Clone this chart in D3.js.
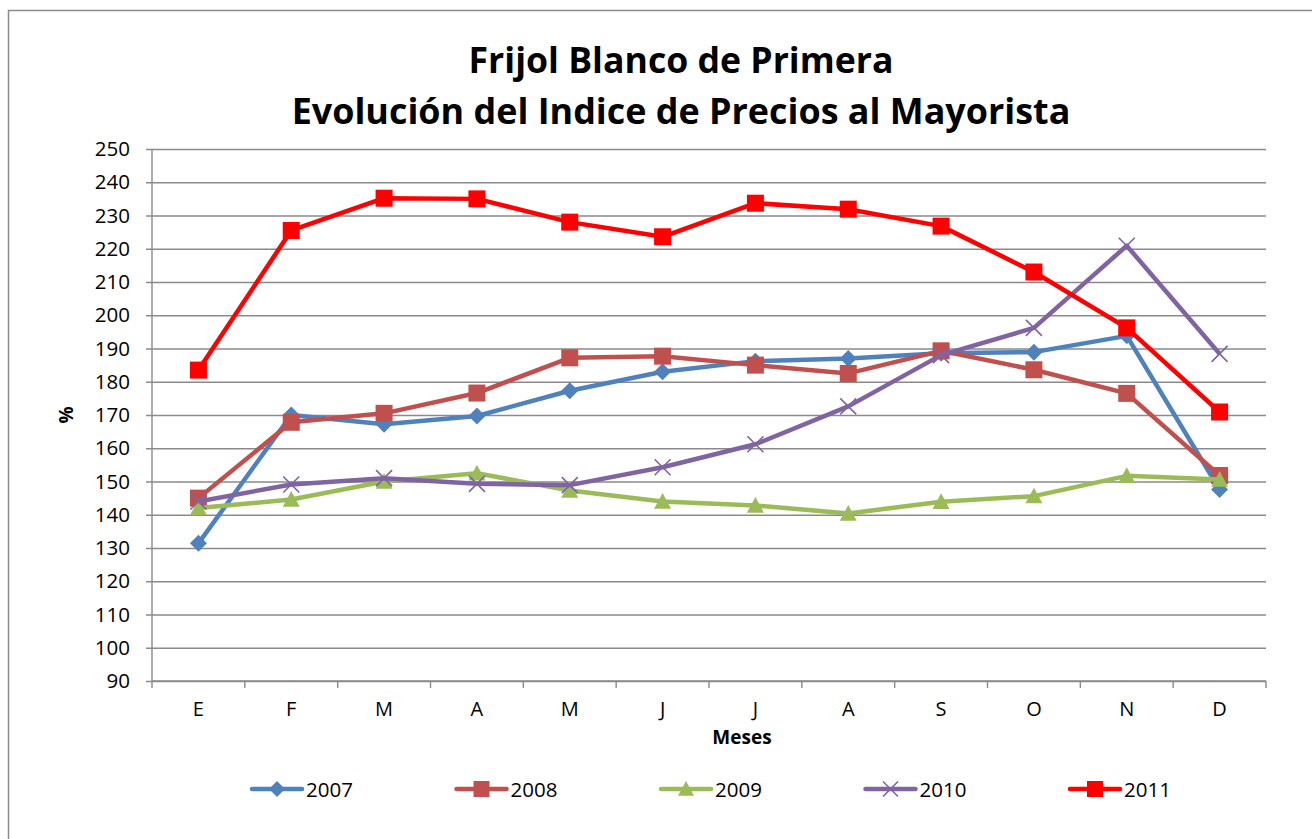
<!DOCTYPE html>
<html>
<head>
<meta charset="utf-8">
<script src="https://cdn.jsdelivr.net/npm/d3@7"></script>
<style>
  body { margin: 0; background: #fff; }
  svg { display: block; font-family: "Open Sans", sans-serif; }
</style>
</head>
<body>
<svg id="chart"></svg>
<script>
let months = ["E", "F", "M", "A", "M", "J", "J", "A", "S", "O", "N", "D"];
let yTicks = [90, 100, 110, 120, 130, 140, 150, 160, 170, 180, 190, 200, 210, 220, 230, 240, 250];

let years = ["2007", "2008", "2009", "2010", "2011"];
let v2007 = [131.4, 170.0, 167.2, 169.7, 177.3, 183.0, 186.2, 187.0, 188.6, 188.9, 193.8, 147.6];
let v2008 = [145.0, 167.8, 170.5, 176.6, 187.2, 187.7, 185.0, 182.5, 189.3, 183.6, 176.5, 151.8];
let v2009 = [142.0, 144.6, 150.0, 152.5, 147.3, 144.0, 142.8, 140.4, 143.9, 145.6, 151.7, 150.6];
let v2010 = [144.0, 149.1, 151.0, 149.3, 148.9, 154.3, 161.2, 172.6, 188.0, 196.2, 220.9, 188.4];
let v2011 = [183.5, 225.5, 235.2, 235.0, 228.0, 223.6, 233.7, 231.9, 226.8, 213.0, 196.2, 170.9];

let colors = ["#4F81BD", "#C0504D", "#9BBB59", "#8064A2", "#FF0000"];
let shapes = ["diamond", "square", "triangle", "x", "square"];

let width = 1312;
let height = 839;
let plot = {left: 152, right: 1266, top: 149, bottom: 681};
let gridColor = "#8a8a8a";

let seriesValues = [v2007, v2008, v2009, v2010, v2011];
let series = years.map((y, i) => ({
    name: y, values: seriesValues[i], color: colors[i], shape: shapes[i]
}));

let svg = d3.select("#chart")
    .attr("width", width)
    .attr("height", height);

// outer chart border
svg.append("rect")
    .attr("x", 8.5)
    .attr("y", 10.5)
    .attr("width", width + 20)
    .attr("height", height + 20)
    .attr("fill", "#fff")
    .attr("stroke", gridColor)
    .attr("stroke-width", 1.5);

let xScale = d3.scaleBand()
    .domain(d3.range(months.length))
    .range([plot.left, plot.right])
    .paddingInner(0)
    .paddingOuter(0);

let yScale = d3.scaleLinear()
    .domain([90, 250])
    .range([plot.bottom, plot.top]);

let cx = (i) => xScale(i) + xScale.bandwidth() / 2;

// gridlines + y axis
let yAxis = d3.axisLeft(yScale)
    .tickValues(yTicks)
    .tickSize(-(plot.right - plot.left))
    .tickPadding(22)
    .tickFormat(d3.format("d"));

let gy = svg.append("g")
    .attr("transform", "translate(" + plot.left + ",0)")
    .call(yAxis);
gy.select(".domain").remove();
gy.selectAll(".tick line")
    .attr("x1", -6)
    .attr("stroke", gridColor)
    .attr("stroke-width", 1.4);
gy.selectAll(".tick text")
    .attr("fill", "#000")
    .style("font-size", "20.5px")
    .style("font-family", "Open Sans");

svg.append("line")
    .attr("x1", plot.left).attr("x2", plot.left)
    .attr("y1", plot.top).attr("y2", plot.bottom)
    .attr("stroke", gridColor)
    .attr("stroke-width", 1.4);

// x axis: ticks between categories
let xAxis = d3.axisBottom(xScale)
    .tickSize(0)
    .tickPadding(21)
    .tickFormat((i) => months[i]);

let gx = svg.append("g")
    .attr("transform", "translate(0," + plot.bottom + ")")
    .call(xAxis);
gx.select(".domain").remove();
gx.selectAll(".tick text")
    .attr("fill", "#000")
    .style("font-size", "20px")
    .style("font-family", "Open Sans");

svg.append("g")
    .selectAll("line")
    .data(d3.range(months.length + 1))
    .enter()
    .append("line")
    .attr("x1", (i) => i < months.length ? xScale(i) : plot.right)
    .attr("x2", (i) => i < months.length ? xScale(i) : plot.right)
    .attr("y1", plot.bottom)
    .attr("y2", plot.bottom + 7)
    .attr("stroke", gridColor)
    .attr("stroke-width", 1.4);

svg.append("line")
    .attr("x1", plot.left).attr("x2", plot.right)
    .attr("y1", plot.bottom).attr("y2", plot.bottom)
    .attr("stroke", gridColor)
    .attr("stroke-width", 1.4);

// marker drawing
let drawMarker = (sel, shape, color, s) => {
    let h = s / 2;
    if (shape === "diamond") {
        sel.append("path")
            .attr("d", "M0," + (-h) + "L" + h + ",0L0," + h + "L" + (-h) + ",0Z")
            .attr("fill", color);
    } else if (shape === "square") {
        sel.append("rect")
            .attr("x", -h).attr("y", -h)
            .attr("width", s).attr("height", s)
            .attr("fill", color);
    } else if (shape === "triangle") {
        sel.append("path")
            .attr("d", "M0," + (-h) + "L" + h + "," + (h * 0.85) + "L" + (-h) + "," + (h * 0.85) + "Z")
            .attr("fill", color);
    } else {
        sel.append("path")
            .attr("d", "M" + (-h) + "," + (-h) + "L" + h + "," + h + "M" + h + "," + (-h) + "L" + (-h) + "," + h)
            .attr("stroke", color)
            .attr("stroke-width", 1.6)
            .attr("fill", "none");
    }
};

let line = d3.line()
    .x((d, i) => cx(i))
    .y((d) => yScale(d));

series.forEach((s) => {
    let g = svg.append("g");
    g.append("path")
        .datum(s.values)
        .attr("d", line)
        .attr("fill", "none")
        .attr("stroke", s.color)
        .attr("stroke-width", 4.5)
        .attr("stroke-linejoin", "round");

    g.selectAll("g.marker")
        .data(s.values)
        .enter()
        .append("g")
        .attr("class", "marker")
        .attr("transform", (d, i) => "translate(" + cx(i) + "," + yScale(d) + ")")
        .each(function () {
            drawMarker(d3.select(this), s.shape, s.color, s.shape === "x" ? 16 : 17);
        });
});

// titles
let fitText = (t, target) => {
    let w = t.node().getComputedTextLength();
    let fs = parseFloat(t.style("font-size"));
    t.style("font-size", (fs * target / w) + "px");
};

let t1 = svg.append("text")
    .attr("x", 681)
    .attr("y", 73)
    .attr("text-anchor", "middle")
    .style("font-weight", "bold")
    .style("font-size", "36px")
    .text("Frijol Blanco de Primera");
fitText(t1, 425);

let t2 = svg.append("text")
    .attr("x", 681)
    .attr("y", 124)
    .attr("text-anchor", "middle")
    .style("font-weight", "bold")
    .style("font-size", "36px")
    .text("Evolución del Indice de Precios al Mayorista");
fitText(t2, 779);

svg.append("text")
    .attr("x", 742)
    .attr("y", 744)
    .attr("text-anchor", "middle")
    .style("font-weight", "bold")
    .style("font-size", "19px")
    .text("Meses");

svg.append("text")
    .attr("transform", "translate(73,415)rotate(-90)")
    .attr("text-anchor", "middle")
    .style("font-weight", "bold")
    .style("font-size", "19px")
    .text("%");

// legend
let legend = svg.append("g")
    .selectAll("g")
    .data(series)
    .enter()
    .append("g")
    .attr("transform", (d, i) => "translate(" + (252 + i * 204.5) + ",789)");

legend.append("line")
    .attr("x1", 0).attr("x2", 50)
    .attr("y1", 0).attr("y2", 0)
    .attr("stroke", (d) => d.color)
    .attr("stroke-width", 4.5)
    .attr("stroke-linecap", "round");

legend.append("g")
    .attr("transform", "translate(25,0)")
    .each(function (d) {
        drawMarker(d3.select(this), d.shape, d.color, d.shape === "x" ? 15 : 16);
    });

legend.append("text")
    .attr("x", 54)
    .attr("y", 8)
    .style("font-size", "20.5px")
    .text((d) => d.name);
</script>
</body>
</html>
